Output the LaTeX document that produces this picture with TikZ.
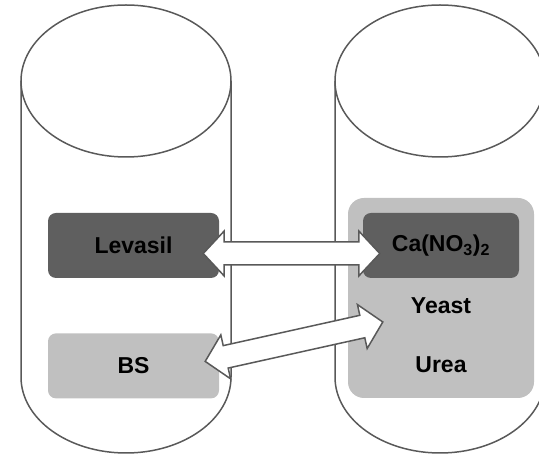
\documentclass[tikz,border=0pt]{standalone}
\usepackage{fontspec}
\setmainfont{Liberation Sans}
\usetikzlibrary{
    positioning,                      % below=of, etc.
    calc                              % ($(a)!d!(b)$)
}
\definecolor{box_dark}{RGB}{95,95,95}
\definecolor{box_light}{RGB}{192,192,192}
\definecolor{edge_gray}{RGB}{89,89,89}
\tikzset{
    tank/.style={
        draw=edge_gray, line width=1.5pt
    },
    twoway/.style={
        draw=edge_gray, line width=1.5pt, fill=white, line join=miter
    }
}
% flecha ancha de doble punta entre dos coordenadas
\newcommand{\twowayarrow}[2]{%
    \draw[twoway] (#1)
        -- ($(#1)!21pt!(#2)!22.5pt!90:(#2)$)
        -- ($(#1)!21pt!(#2)!11.5pt!90:(#2)$)
        -- ($(#2)!21pt!(#1)!11.5pt!-90:(#1)$)
        -- ($(#2)!21pt!(#1)!22.5pt!-90:(#1)$)
        -- (#2)
        -- ($(#2)!21pt!(#1)!22.5pt!90:(#1)$)
        -- ($(#2)!21pt!(#1)!11.5pt!90:(#1)$)
        -- ($(#1)!21pt!(#2)!11.5pt!-90:(#2)$)
        -- ($(#1)!21pt!(#2)!22.5pt!-90:(#2)$)
        -- cycle;}

\begin{document}
\begin{tikzpicture}[
        x=1pt, y=1pt,
        font=\bfseries\fontsize{23}{26}\selectfont,
        darkbox/.style={fill=box_dark, rounded corners=8pt, minimum width=171pt, minimum height=65pt, inner sep=0pt},
        lightbox/.style={darkbox, fill=box_light},
        mixbox/.style={fill=box_light, rounded corners=16pt, minimum width=186pt, minimum height=200pt, inner sep=0pt}]

    \useasboundingbox (0,0) rectangle (539,457);

    % tanques
    \draw[tank] (126,376) ellipse[x radius=105, y radius=76];
    \draw[tank] (21,376) -- (21,80) arc[start angle=180, end angle=360, x radius=105, y radius=76] -- (231,376);
    \draw[tank] (440,376) ellipse[x radius=105, y radius=76];
    \draw[tank] (335,376) -- (335,80) arc[start angle=180, end angle=360, x radius=105, y radius=76] -- (545,376);

    % tanque izquierdo
    \node[darkbox]  (lev) at (133.5,211.5) {Levasil};
    \node[lightbox, below=55pt of lev] (bs) {BS};

    % tanque derecho
    \node[mixbox] (mix) at (441,159) {};
    \node[darkbox, minimum width=156pt] (ca) at (441,211.5) {Ca(NO\textsubscript{3})\textsubscript{2}};
    \node (yeast) at ($(ca)+(0,-60.5)$) {Yeast};
    \node (urea)  at ($(ca)+(0,-119.5)$) {Urea};

    % intercambio
    \coordinate (a1) at ([xshift=-16pt, yshift=-8pt]lev.east);
    \coordinate (b1) at ([xshift=17pt, yshift=-8pt]ca.west);
    \coordinate (a2) at ([xshift=-14pt, yshift=4.5pt]bs.east);
    \coordinate (b2) at ([xshift=35pt, yshift=-24pt]mix.west);
    \twowayarrow{a1}{b1}
    \twowayarrow{a2}{b2}
\end{tikzpicture}
\end{document}
